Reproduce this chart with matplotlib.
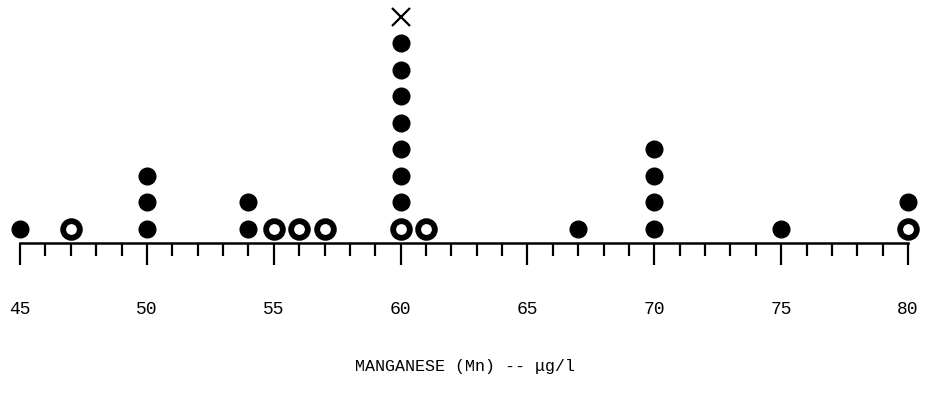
import matplotlib.pyplot as plt

# manganese values (ug/l) and how many samples at each
mn_values = [45, 47, 50, 54, 55, 56, 57, 60, 61, 67, 70, 75, 80]
mn_counts = [1, 1, 3, 2, 1, 1, 1, 8, 1, 1, 4, 1, 2]
# values whose bottom dot looks hollow on the scan
hollow_bottom = [47, 55, 56, 57, 60, 61, 80]
# the extra "X" marked on top of the 60 column
x_mark_value = 60

tick_labels = ["45", "50", "55", "60", "65", "70", "75", "80"]
major_ticks = [45, 50, 55, 60, 65, 70, 75, 80]
minor_ticks = [v for v in range(45, 81) if v % 5 != 0]

plt.rcParams["font.family"] = ["Liberation Mono", "DejaVu Sans Mono"]

fig = plt.figure(figsize=(9.38, 4.08), dpi=100)
ax = fig.add_axes([0, 0, 1, 1])

for val, n in zip(mn_values, mn_counts):
    for k in range(1, n + 1):
        if k == 1 and val in hollow_bottom:
            ax.plot(val, k, "o", ms=12, mfc="white", mec="black", mew=4.2)
        else:
            ax.plot(val, k, "o", ms=12, mfc="black", mec="black")

ax.plot(x_mark_value, mn_counts[mn_values.index(x_mark_value)] + 1, "x",
        ms=13, mew=1.6, color="black")

ax.set_xlim(44.21, 81.18)
ax.set_ylim(-5.76, 9.64)

for side in ["top", "left", "right"]:
    ax.spines[side].set_visible(False)
ax.spines["bottom"].set_position(("data", 0.47))
ax.spines["bottom"].set_bounds(45, 80)
ax.spines["bottom"].set_linewidth(1.8)

ax.set_yticks([])
ax.set_xticks(major_ticks)
ax.set_xticklabels(tick_labels)
ax.set_xticks(minor_ticks, minor=True)
ax.tick_params(axis="x", which="major", direction="out", length=16, width=1.6,
               pad=26, labelsize=13)
ax.tick_params(axis="x", which="minor", direction="out", length=9, width=1.6)

fig.text(465 / 938, 1 - 367 / 408, "MANGANESE (Mn) -- \u03bcg/l",
         ha="center", va="center", fontsize=12)

fig.savefig("out.png", dpi=100)
